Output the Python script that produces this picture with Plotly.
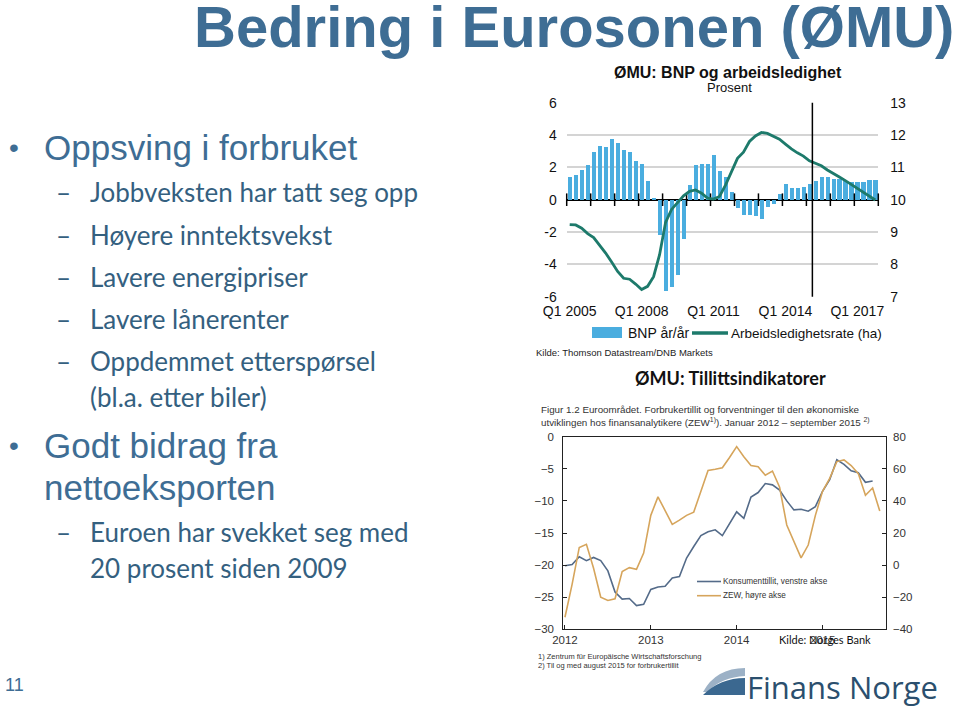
import plotly.graph_objects as go

W, H = 960, 712
def fx(x): return x / W
def fy(y): return 1 - y / H

# ---------------- Top chart data: ØMU BNP og arbeidsledighet ----------------
years_top = list(range(2005, 2018))
quarters = [f"Q{q} {y}" for y in years_top for q in (1, 2, 3, 4)]
bnp = [1.4, 1.55, 1.85, 2.15, 2.95, 3.35, 3.25, 3.8, 3.55, 3.1, 2.95, 2.4, 2.25,
       1.15, 0.15, -2.15, -5.65, -5.4, -4.65, -2.4, 0.9, 2.15, 2.25, 2.25,
       2.8, 1.8, 1.4, 0.5, -0.5, -0.9, -0.95, -1.0, -1.2, -0.45, -0.27, 0.37,
       1.0, 0.75, 0.75, 0.8, 0.97, 1.2, 1.42, 1.42, 1.28, 1.28, 1.18, 1.1,
       1.1, 1.13, 1.23, 1.23]
ledighet = [9.23, 9.22, 9.12, 8.95, 8.83, 8.6, 8.35, 8.07, 7.78, 7.57, 7.54, 7.39,
            7.22, 7.32, 7.62, 8.3, 9.3, 9.7, 9.92, 10.12, 10.26, 10.3, 10.2, 10.05,
            10.02, 10.1, 10.45, 10.88, 11.28, 11.47, 11.8, 11.97, 12.08, 12.05, 11.97,
            11.87, 11.72, 11.57, 11.45, 11.35, 11.2, 11.13, 11.05, 10.92, 10.8, 10.7,
            10.59, 10.47, 10.36, 10.24, 10.1, 9.99]
bnp_ticks = [-6, -4, -2, 0, 2, 4, 6]
ledighet_ticks = [7, 8, 9, 10, 11, 12, 13]
label_years = [2005, 2008, 2011, 2014, 2017]
forecast_start = "Q2 2015"

# ---------------- Bottom chart data: Tillitsindikatorer ----------------
kons = [-20.1, -19.9, -18.7, -19.3, -18.8, -19.3, -20.9, -24.2, -25.3, -25.2, -26.3, -26.1,
        -23.8, -23.4, -23.3, -22.0, -21.8, -18.9, -17.1, -15.4, -14.8, -14.5, -15.4, -13.5,
        -11.7, -12.7, -9.4, -8.7, -7.3, -7.5, -8.3, -10.0, -11.4, -11.3, -11.6, -10.9,
        -8.5, -6.7, -3.6, -4.3, -5.3, -5.6, -7.1, -6.9]
zew = [-32.5, -12.0, 11.0, 13.0, -2.0, -20.0, -22.0, -21.0, -4.0, -1.6, -2.6, 7.5,
       31.0, 42.5, 34.0, 25.4, 28.0, 31.0, 33.0, 46.0, 59.0, 59.7, 60.7, 67.0,
       73.8, 67.5, 62.0, 61.3, 56.0, 58.6, 48.5, 25.0, 15.0, 4.5, 12.5, 31.0,
       46.0, 54.0, 64.5, 65.5, 62.0, 57.0, 43.5, 48.0, 33.7]
kons_ticks = [0, -5, -10, -15, -20, -25, -30]
zew_ticks = [80, 60, 40, 20, 0, -20, -40]
bottom_years = ["2012", "2013", "2014", "2015"]

# ---------------- styling ----------------
ARIAL = "Liberation Sans, Arial"
BLUE = "#3e6d94"
SUBBLUE = "#34607f"
BAR_C = "#4aaddf"
LINE_C = "#1d7a6b"
KONS_C = "#546b89"
ZEW_C = "#d6a55c"

fig = go.Figure()

idx = list(range(len(quarters)))
fig.add_trace(go.Bar(x=idx, y=bnp, width=0.72, marker=dict(color=BAR_C, line=dict(width=0)),
                     xaxis="x", yaxis="y", name="BNP år/år", showlegend=False))
boundary = [i - 0.5 for i, q in enumerate(quarters) if q.startswith("Q1")] + [len(quarters) - 0.5]
fig.add_trace(go.Scatter(x=boundary, y=[0] * len(boundary), mode="markers", cliponaxis=False,
                         marker=dict(symbol="line-ns", size=9, line=dict(width=1.5, color="black")),
                         xaxis="x", yaxis="y", hoverinfo="skip", showlegend=False))
fig.add_trace(go.Scatter(x=idx, y=ledighet, mode="lines", line=dict(color=LINE_C, width=2.8),
                         xaxis="x", yaxis="y2", name="Arbeidsledighetsrate (ha)", showlegend=False))

fig.add_trace(go.Scatter(x=list(range(len(kons))), y=kons, mode="lines",
                         line=dict(color=KONS_C, width=1.6), xaxis="x3", yaxis="y3", showlegend=False))
fig.add_trace(go.Scatter(x=list(range(len(zew))), y=zew, mode="lines",
                         line=dict(color=ZEW_C, width=1.6), xaxis="x3", yaxis="y4", showlegend=False))

label_idx = [quarters.index(f"Q1 {y}") for y in label_years]
fmt_minus = lambda v: str(v).replace("-", "\u2212")

TOPFONT = dict(family=ARIAL, size=14, color="#111")
BOTFONT = dict(family=ARIAL, size=11.5, color="#333")

fig.update_layout(
    width=W, height=H, margin=dict(l=0, r=0, t=0, b=0, pad=0, autoexpand=False),
    paper_bgcolor="white", plot_bgcolor="white", bargap=0, showlegend=False,
    xaxis=dict(domain=[fx(566.7), fx(878.3)], range=[-0.5, len(quarters) - 0.5], anchor="y",
               tickvals=label_idx, ticktext=[quarters[i] for i in label_idx], automargin=False,
               showgrid=False, showline=False, zeroline=False, ticks="", ticklabelstandoff=4,
               tickfont=TOPFONT),
    yaxis=dict(domain=[fy(296.7), fy(102.7)], range=[-6, 6], tickvals=bnp_ticks,
               ticktext=[str(v) for v in bnp_ticks], showgrid=True, gridcolor="#d4d4d4",
               gridwidth=1.5, zeroline=True, zerolinecolor="black", zerolinewidth=1.5,
               showline=False, ticks="", ticklabelstandoff=9, automargin=False, tickfont=TOPFONT),
    yaxis2=dict(overlaying="y", side="right", anchor="x", range=[7, 13], tickvals=ledighet_ticks,
                showgrid=False, zeroline=False, showline=False, ticks="", ticklabelstandoff=11,
                automargin=False, tickfont=TOPFONT),
    xaxis3=dict(domain=[fx(563.3), fx(886)], range=[-0.23, 44.87], anchor="y3",
                tickvals=[0, 12, 24, 36], ticktext=bottom_years, ticks="inside", ticklen=4,
                tickcolor="#222", showline=True, linecolor="#222", linewidth=1, mirror=True,
                showgrid=False, zeroline=False, automargin=False, tickfont=BOTFONT),
    yaxis3=dict(domain=[fy(629.3), fy(436.7)], range=[-30, 0], anchor="x3",
                tickvals=kons_ticks, ticktext=[fmt_minus(v) for v in kons_ticks],
                ticks="inside", ticklen=4, tickcolor="#222", showline=True, linecolor="#222",
                linewidth=1, mirror=True, showgrid=False, zeroline=False, ticklabelstandoff=6,
                automargin=False, tickfont=BOTFONT),
    yaxis4=dict(overlaying="y3", side="right", anchor="x3", range=[-40, 80],
                tickvals=zew_ticks, ticktext=[fmt_minus(v) for v in zew_ticks],
                ticks="inside", ticklen=4, tickcolor="#222", showline=False, showgrid=False,
                zeroline=False, ticklabelstandoff=6, automargin=False, tickfont=BOTFONT),
)

# vertical line at start of forecast period
vx = quarters.index(forecast_start) - 0.5
fig.add_shape(type="line", xref="x", yref="y domain", x0=vx, x1=vx, y0=0, y1=1,
              line=dict(color="black", width=1.5))

shapes = []
annotations = []
def ann(text, x, y, size, color="#111", family=ARIAL, xanchor="left", yanchor="middle"):
    annotations.append(dict(text=text, x=fx(x), y=fy(y), xref="paper", yref="paper",
                            xanchor=xanchor, yanchor=yanchor, showarrow=False,
                            font=dict(size=size, color=color, family=family)))

# Slide title
ann("<b>Bedring i Eurosonen (ØMU)</b>", 192, 27, 58, BLUE, ARIAL)

# Bullets
MAIN_F = "Liberation Sans, Arial"
SUB_F = "Lato, Open Sans, sans-serif"
ann("•", 7, 147, 28, BLUE, MAIN_F)
ann("Oppsving i forbruket", 42, 147, 35, BLUE, MAIN_F)
sub_lines = [("Jobbveksten har tatt seg opp", 192, True),
             ("Høyere inntektsvekst", 235, True),
             ("Lavere energipriser", 277, True),
             ("Lavere lånerenter", 319, True),
             ("Oppdemmet etterspørsel", 361, True),
             ("(bl.a. etter biler)", 397, False)]
for txt, y, dash in sub_lines:
    if dash:
        ann("–", 54, y, 26, SUBBLUE, SUB_F)
    ann(txt, 88, y, 26, SUBBLUE, SUB_F)
ann("•", 7, 445, 28, BLUE, MAIN_F)
ann("Godt bidrag fra", 42, 445, 35, BLUE, MAIN_F)
ann("nettoeksporten", 42, 487, 35, BLUE, MAIN_F)
ann("–", 54, 532, 26, SUBBLUE, SUB_F)
ann("Euroen har svekket seg med", 88, 532, 26, SUBBLUE, SUB_F)
ann("20 prosent siden 2009", 88, 568, 26, SUBBLUE, SUB_F)
ann("11", 3, 685, 18, BLUE, ARIAL)

# Top chart texts
ann("<b>ØMU: BNP og arbeidsledighet</b>", 728, 72, 16, "#111", ARIAL, xanchor="center")
ann("Prosent", 729, 88, 13, "#111", ARIAL, xanchor="center")
shapes.append(dict(type="rect", xref="paper", yref="paper", x0=fx(592), x1=fx(622),
                   y0=fy(338), y1=fy(327), fillcolor=BAR_C, line=dict(width=0)))
ann("BNP år/år", 626, 333, 14, "#111", ARIAL)
shapes.append(dict(type="line", xref="paper", yref="paper", x0=fx(692), x1=fx(728),
                   y0=fy(333), y1=fy(333), line=dict(color=LINE_C, width=3.5)))
ann("Arbeidsledighetsrate (ha)", 729, 333, 13.5, "#111", ARIAL)
ann("Kilde: Thomson Datastream/DNB Markets", 534, 352, 9.5, "#222", ARIAL)

# Bottom chart texts
ann("<b>ØMU: Tillittsindikatorer</b>", 730, 378, 18, "#111", "Lato, Open Sans", xanchor="center")
ann("Figur 1.2 Euroområdet. Forbrukertillit og forventninger til den økonomiske", 539, 409, 9.8, "#333", ARIAL)
ann("utviklingen hos finansanalytikere (ZEW<sup>1)</sup>). Januar 2012 – september 2015 <sup>2)</sup>",
    539, 422, 9.8, "#333", ARIAL)
shapes.append(dict(type="line", xref="paper", yref="paper", x0=fx(697), x1=fx(721),
                   y0=fy(581.5), y1=fy(581.5), line=dict(color=KONS_C, width=1.6)))
ann("Konsumenttillit, venstre akse", 721, 581.5, 8.2, "#333", ARIAL)
shapes.append(dict(type="line", xref="paper", yref="paper", x0=fx(697), x1=fx(721),
                   y0=fy(595.7), y1=fy(595.7), line=dict(color=ZEW_C, width=1.6)))
ann("ZEW, høyre akse", 721, 595.7, 8.2, "#333", ARIAL)
ann("Kilde: Norges Bank", 777, 639, 11, "#111", "Lato, Open Sans")
ann("1) Zentrum für Europäische Wirtschaftsforschung", 536, 656, 7.5, "#333", ARIAL)
ann("2) Til og med august 2015 for forbrukertillit", 536, 665, 7.5, "#333", ARIAL)

# Finans Norge logo
def P(x, y): return f"{fx(x)},{fy(y)}"
shapes.append(dict(type="path", xref="paper", yref="paper",
                   path=f"M {P(703,692)} Q {P(716,668)} {P(745,668)} L {P(745,676)} Q {P(722,677)} {P(707,692)} Z",
                   fillcolor="#9cb1c6", line=dict(width=0)))
shapes.append(dict(type="path", xref="paper", yref="paper",
                   path=f"M {P(703,695)} Q {P(720,678)} {P(745,678)} L {P(745,695)} Z",
                   fillcolor="#3b6890", line=dict(width=0)))
ann("Finans Norge", 745, 687, 31, "#2b4f6e", "Open Sans, Liberation Sans")

fig.update_layout(annotations=annotations)
for s in shapes:
    fig.add_shape(**s)

fig.write_html("out.html")
